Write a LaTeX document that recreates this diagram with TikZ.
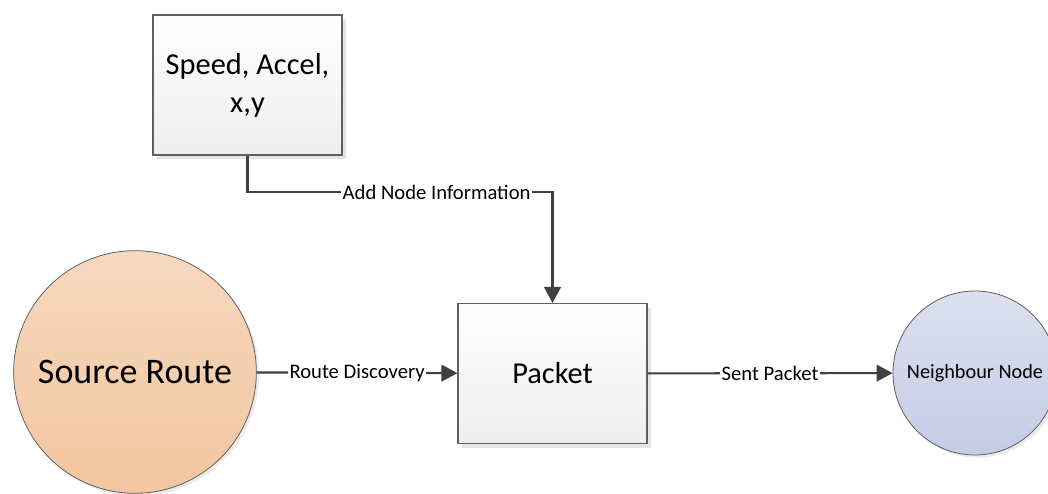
\documentclass[tikz,border=0pt]{standalone}
\usepackage{fontspec}
\setmainfont{Carlito}
\usetikzlibrary{arrows.meta, shadows}

\definecolor{boxline}{HTML}{5F5F5F}
\definecolor{boxgrey}{HTML}{EEEEEE}
\definecolor{linkgrey}{HTML}{404040}
\definecolor{srctop}{HTML}{F6D8BF}
\definecolor{srcbot}{HTML}{F2C6A0}
\definecolor{nbtop}{HTML}{DCE0EF}
\definecolor{nbbot}{HTML}{C4CBE5}

\begin{document}
\begin{tikzpicture}[x=0.75pt, y=-0.75pt,
  procbox/.style={draw=boxline, line width=0.8pt, top color=white, bottom color=boxgrey,
    minimum width=141.75pt, minimum height=105pt, align=center, inner sep=0pt,
    drop shadow={shadow xshift=3pt, shadow yshift=-3pt, fill=black, opacity=0.1}},
  rnode/.style={circle, draw=boxline, line width=0.6pt, inner sep=0pt, align=center,
    drop shadow={shadow xshift=2pt, shadow yshift=-2pt, fill=black, opacity=0.08}},
  link/.style={draw=linkgrey, line width=1.6pt, -{Triangle[length=12pt, width=12.5pt]}},
  lbl/.style={fill=white, inner sep=1pt, font=\fontsize{15.5}{18}\selectfont}
]
\useasboundingbox (0,0) rectangle (1048,493);

% Boxes
\node[procbox, font=\fontsize{22.8}{28.5}\selectfont] (info) at (247.5,85) {Speed, Accel,\\x,y};
\node[procbox, font=\fontsize{22.8}{27}\selectfont] (packet) at (552.5,373.5) {Packet};

% Round nodes
\node[rnode, top color=srctop, bottom color=srcbot, minimum size=182pt,
  font=\fontsize{27}{32}\selectfont] (source) at (135,372) {Source Route};
\node[rnode, top color=nbtop, bottom color=nbbot, minimum size=123pt,
  font=\fontsize{15.2}{18}\selectfont] (neigh) at (975,373) {Neighbour Node};

% Connectors
\coordinate (turn) at (552.5,192);
\draw[link] (info.south) |- (turn) node[lbl, pos=0.81] {Add Node Information} -- (packet.north);
\draw[link] (source) -- node[lbl] {Route Discovery} (packet);
\draw[link] (packet) -- node[lbl] {Sent Packet} (neigh);
\end{tikzpicture}
\end{document}
